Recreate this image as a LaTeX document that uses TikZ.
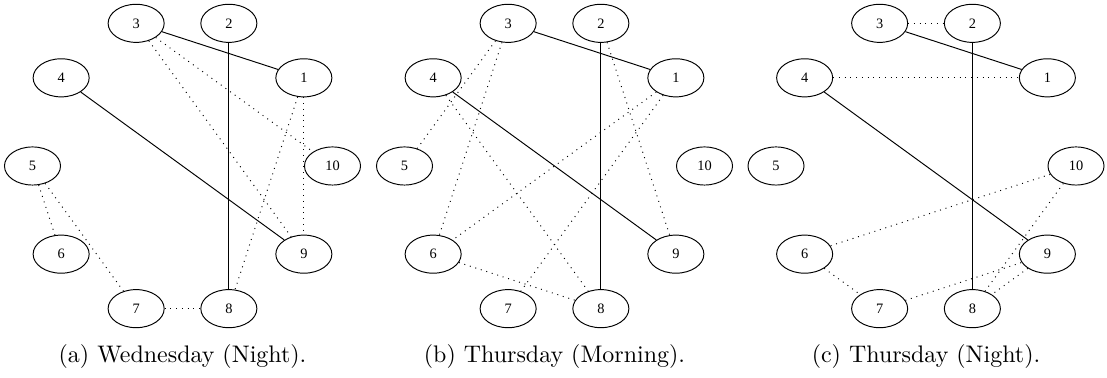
\documentclass[tikz,border=0pt]{standalone}
\usepackage{fontspec}
\usepackage{tikz}
\usetikzlibrary{shapes.geometric}

\newfontfamily\vtxfont{Liberation Serif}

\tikzset{
  vtx/.style={draw, ellipse, minimum width=23.4pt, minimum height=15.9pt,
    inner sep=0pt, font=\vtxfont\fontsize{6}{7}\selectfont},
  link/.style={dotted}
}

\begin{document}
\begin{tikzpicture}[x=0.4175pt, y=0.4175pt]
        \useasboundingbox (0,0) rectangle (1107,378);

        % (a) Wednesday night
        \begin{scope}[shift={(182.5,212)}]
        \node[vtx] (a10) at (0:150) {10};
        \node[vtx] (a1) at (36:150) {1};
        \node[vtx] (a2) at (72:150) {2};
        \node[vtx] (a3) at (108:150) {3};
        \node[vtx] (a4) at (144:150) {4};
        \node[vtx] (a5) at (180:150) {5};
        \node[vtx] (a6) at (216:150) {6};
        \node[vtx] (a7) at (252:150) {7};
        \node[vtx] (a8) at (288:150) {8};
        \node[vtx] (a9) at (324:150) {9};

        \draw (a3) -- (a1); \draw (a2) -- (a8); \draw (a4) -- (a9);
        \draw[link] (a3) -- (a10); \draw[link] (a3) -- (a9);
        \draw[link] (a1) -- (a9); \draw[link] (a1) -- (a8);
        \draw[link] (a5) -- (a6); \draw[link] (a5) -- (a7);
        \draw[link] (a7) -- (a8);
        \end{scope}
        \node (capa) at (182.5,21) {(a) Wednesday (Night).};

        % (b) Thursday morning
        \begin{scope}[shift={(554.5,212)}]
        \node[vtx] (b10) at (0:150) {10};
        \node[vtx] (b1) at (36:150) {1};
        \node[vtx] (b2) at (72:150) {2};
        \node[vtx] (b3) at (108:150) {3};
        \node[vtx] (b4) at (144:150) {4};
        \node[vtx] (b5) at (180:150) {5};
        \node[vtx] (b6) at (216:150) {6};
        \node[vtx] (b7) at (252:150) {7};
        \node[vtx] (b8) at (288:150) {8};
        \node[vtx] (b9) at (324:150) {9};

        \draw (b3) -- (b1); \draw (b2) -- (b8); \draw (b4) -- (b9);
        \draw[link] (b3) -- (b5); \draw[link] (b3) -- (b6);
        \draw[link] (b4) -- (b8); \draw[link] (b1) -- (b6);
        \draw[link] (b1) -- (b7); \draw[link] (b2) -- (b9);
        \draw[link] (b6) -- (b8);
        \end{scope}
        \node (capb) at (554.5,21) {(b) Thursday (Morning).};

        % (c) Thursday night
        \begin{scope}[shift={(926,212)}]
        \node[vtx] (c10) at (0:150) {10};
        \node[vtx] (c1) at (36:150) {1};
        \node[vtx] (c2) at (72:150) {2};
        \node[vtx] (c3) at (108:150) {3};
        \node[vtx] (c4) at (144:150) {4};
        \node[vtx] (c5) at (180:150) {5};
        \node[vtx] (c6) at (216:150) {6};
        \node[vtx] (c7) at (252:150) {7};
        \node[vtx] (c8) at (288:150) {8};
        \node[vtx] (c9) at (324:150) {9};

        \draw (c3) -- (c1); \draw (c2) -- (c8); \draw (c4) -- (c9);
        \draw[link] (c3) -- (c2); \draw[link] (c4) -- (c1);
        \draw[link] (c10) -- (c6); \draw[link] (c10) -- (c8);
        \draw[link] (c7) -- (c9); \draw[link] (c9) -- (c8);
        \draw[link] (c6) -- (c7);
        \end{scope}
        \node (capc) at (926,21) {(c) Thursday (Night).};

    \end{tikzpicture}
\end{document}
